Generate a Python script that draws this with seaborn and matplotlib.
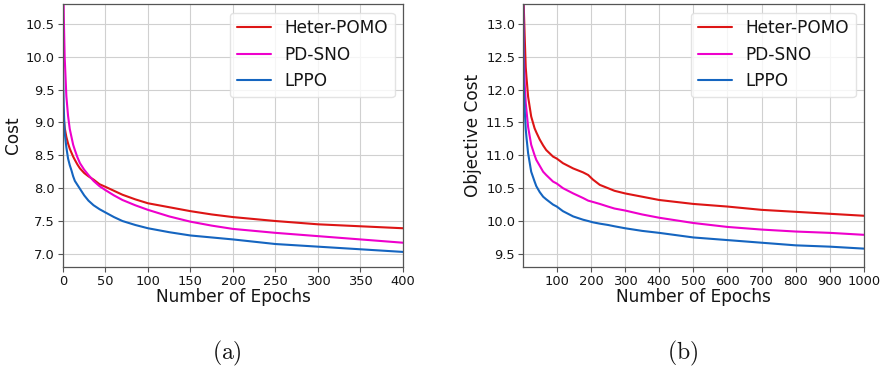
import pandas as pd
import matplotlib
matplotlib.use("Agg")
import matplotlib.pyplot as plt
from matplotlib.ticker import MultipleLocator
import seaborn as sns

# %% data
methods = ["Heter-POMO", "PD-SNO", "LPPO"]

epochs_a = [0, 1, 2, 4, 6, 8, 10, 12, 14, 17, 20, 25, 30, 36, 43, 50, 60, 70,
            85, 100, 125, 150, 175, 200, 250, 300, 350, 400]
heter_a = [9.25, 9.05, 8.92, 8.78, 8.68, 8.60, 8.54, 8.48, 8.43, 8.36, 8.30, 8.23,
           8.18, 8.13, 8.06, 8.02, 7.96, 7.90, 7.83, 7.77, 7.71, 7.65, 7.60, 7.56,
           7.50, 7.45, 7.42, 7.39]
pdsno_a = [11.6, 10.6, 10.0, 9.40, 9.10, 8.90, 8.78, 8.66, 8.58, 8.47, 8.38, 8.28,
           8.20, 8.11, 8.03, 7.97, 7.89, 7.82, 7.74, 7.67, 7.57, 7.49, 7.43, 7.38,
           7.32, 7.27, 7.22, 7.17]
lppo_a = [9.8, 9.2, 8.85, 8.62, 8.45, 8.35, 8.27, 8.18, 8.11, 8.05, 7.99, 7.89,
          7.81, 7.74, 7.68, 7.63, 7.56, 7.50, 7.44, 7.39, 7.33, 7.28, 7.25, 7.22,
          7.15, 7.11, 7.07, 7.03]

epochs_b = [1, 3, 6, 9, 11, 16, 25, 35, 40, 50, 60, 69, 89, 100, 118, 148, 177,
            192, 206, 226, 250, 269, 300, 350, 400, 500, 600, 700, 800, 900, 1000]
heter_b = [14.5, 13.3, 12.8, 12.34, 12.2, 11.89, 11.59, 11.41, 11.35, 11.24, 11.15,
           11.08, 10.98, 10.95, 10.88, 10.80, 10.74, 10.70, 10.63, 10.55, 10.50,
           10.46, 10.42, 10.37, 10.32, 10.26, 10.22, 10.17, 10.14, 10.11, 10.08]
pdsno_b = [14.0, 12.6, 12.09, 11.80, 11.69, 11.43, 11.16, 11.00, 10.93, 10.84, 10.75,
           10.70, 10.60, 10.57, 10.50, 10.42, 10.35, 10.31, 10.29, 10.26, 10.22,
           10.19, 10.16, 10.10, 10.05, 9.97, 9.91, 9.87, 9.84, 9.82, 9.79]
lppo_b = [13.8, 12.09, 11.69, 11.40, 11.28, 11.03, 10.75, 10.60, 10.53, 10.44, 10.37,
          10.33, 10.25, 10.22, 10.15, 10.07, 10.02, 10.00, 9.98, 9.96, 9.94, 9.92,
          9.89, 9.85, 9.82, 9.75, 9.71, 9.67, 9.63, 9.61, 9.58]

colors = {"Heter-POMO": "#dd1515", "PD-SNO": "#ee00cc", "LPPO": "#1565c0"}


def to_long(epochs, series):
    frames = []
    for name, vals in zip(methods, series):
        frames.append(pd.DataFrame({"epoch": epochs, "cost": vals, "method": name}))
    return pd.concat(frames, ignore_index=True)


df_a = to_long(epochs_a, [heter_a, pdsno_a, lppo_a])
df_b = to_long(epochs_b, [heter_b, pdsno_b, lppo_b])

# %% plotting
sns.set_style("whitegrid", {"axes.edgecolor": "#555555", "grid.color": "#d0d0d0",
                            "xtick.bottom": True, "ytick.left": True,
                            "text.color": "#151515", "axes.labelcolor": "#151515",
                            "xtick.color": "#151515", "ytick.color": "#151515"})
plt.rcParams["font.family"] = ["DejaVu Sans"]
plt.rcParams["mathtext.fontset"] = "cm"

fig = plt.figure(figsize=(8.83, 3.74), dpi=100)
ax1 = fig.add_axes([0.0713, 0.286, 0.3851, 0.703])
ax2 = fig.add_axes([0.5923, 0.286, 0.3862, 0.703])

panels = [
    (ax1, df_a, "Cost", (0, 400), (6.8, 10.8), 50, r"$(\mathrm{a})$", 0.257),
    (ax2, df_b, "Objective Cost", (1, 1000), (9.3, 13.3), 100, r"$(\mathrm{b})$", 0.773),
]
for ax, df, ylab, xl, yl, step, cap, cx in panels:
    sns.lineplot(data=df, x="epoch", y="cost", hue="method", hue_order=methods,
                 palette=colors, linewidth=1.5, ax=ax, sort=False)
    ax.set_xlim(*xl)
    ax.set_ylim(*yl)
    ax.xaxis.set_major_locator(MultipleLocator(step))
    ax.yaxis.set_major_locator(MultipleLocator(0.5))
    ax.set_xlabel("Number of Epochs", fontsize=12.2, labelpad=0)
    ax.set_ylabel(ylab, fontsize=12.2, labelpad=3)
    ax.tick_params(labelsize=9.4, length=3.5, width=0.8, color="#555555", pad=2.2)
    for s in ax.spines.values():
        s.set_linewidth(0.9)
    h, l = ax.get_legend_handles_labels()
    ax.legend(h, l, loc="upper right", fontsize=12.2, framealpha=0.8,
              edgecolor="#dddddd")
    fig.text(cx, 0.056, cap, fontsize=17, ha="center", va="center")

fig.savefig("out.png", dpi=100)
